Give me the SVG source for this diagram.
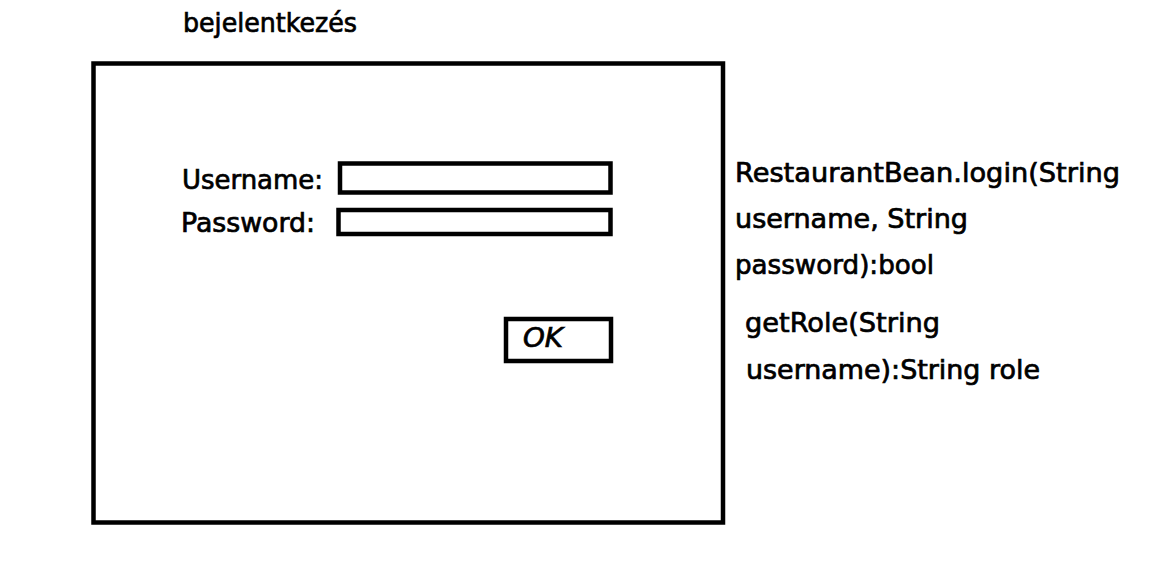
<svg xmlns="http://www.w3.org/2000/svg" width="1158" height="563" viewBox="0 0 1158 563">
<style>
.box{fill:#fff;stroke:#000;stroke-width:4.5}
.t{font-family:"Comic Sans MS","DejaVu Sans","Liberation Sans",sans-serif;font-size:26px;fill:#000;stroke:#000;stroke-width:0.7}
</style>
<rect x="0" y="0" width="1158" height="563" fill="#fff"/>
<g id="title">
<text class="t" x="183" y="32" textLength="174" lengthAdjust="spacingAndGlyphs">bejelentkezés</text>
</g>
<g id="window">
<rect class="box" x="93.5" y="63.5" width="629.5" height="459"/>
</g>
<g id="username">
<text class="t" x="182" y="189" textLength="141" lengthAdjust="spacingAndGlyphs">Username:</text>
<rect class="box" x="340" y="163.5" width="270.5" height="29"/>
</g>
<g id="password">
<text class="t" x="181" y="232" textLength="134" lengthAdjust="spacingAndGlyphs">Password:</text>
<rect class="box" x="338.5" y="210" width="272" height="24"/>
</g>
<g id="ok-button">
<rect class="box" x="506" y="319" width="105" height="42"/>
<text class="t" x="523" y="347" textLength="40" lengthAdjust="spacingAndGlyphs" font-style="italic">OK</text>
</g>
<g id="login-note">
<text class="t" x="735" y="182" textLength="385" lengthAdjust="spacingAndGlyphs">RestaurantBean.login(String</text>
<text class="t" x="735" y="228" textLength="233" lengthAdjust="spacingAndGlyphs">username, String</text>
<text class="t" x="735" y="274" textLength="199" lengthAdjust="spacingAndGlyphs">password):bool</text>
</g>
<g id="role-note">
<text class="t" x="745" y="332" textLength="195" lengthAdjust="spacingAndGlyphs">getRole(String</text>
<text class="t" x="746" y="379" textLength="294" lengthAdjust="spacingAndGlyphs">username):String role</text>
</g>
</svg>
